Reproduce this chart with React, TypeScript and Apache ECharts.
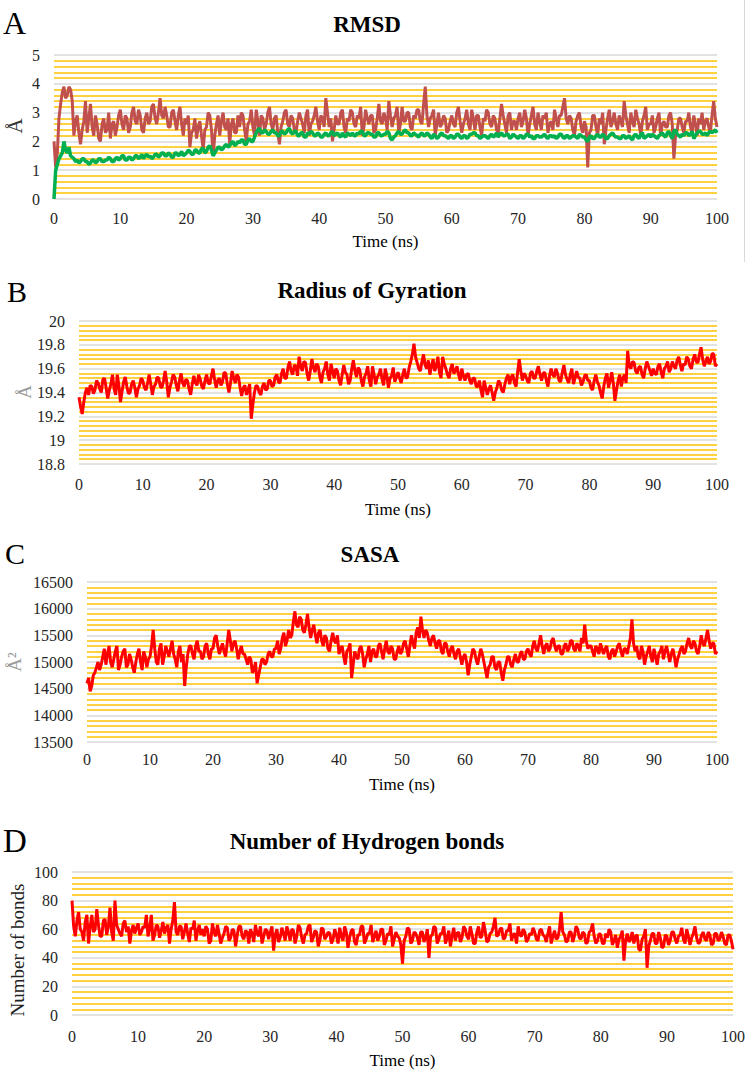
import React, { useEffect, useRef } from "react";
import * as echarts from "echarts";

// time step between samples (ns)
const STEP = 0.25;

// Panel A: RMSD (Å)
const rmsdRed = [
  2.0,1.1,1.6,2.8,3.3,3.7,3.9,3.5,3.6,3.9,3.8,3.4,2.2,2.7,2.9,2.3,1.9,2.4,2.7,3.4,
  2.3,2.8,3.3,2.5,2.2,2.9,2.6,2.1,2.0,2.6,2.8,2.3,2.4,3.0,2.1,2.6,2.7,2.2,2.5,2.9,
  3.1,2.6,2.4,2.9,2.8,2.3,2.5,3.0,3.2,2.7,2.6,3.1,2.9,2.4,2.3,2.8,3.0,2.6,2.7,3.2,
  3.3,2.8,2.6,3.0,3.5,2.9,2.8,3.2,2.9,2.5,2.5,3.0,3.1,2.7,2.4,2.9,3.2,2.6,2.2,2.8,
  2.6,2.9,1.8,2.3,2.4,2.8,2.1,2.5,2.7,2.2,1.7,2.4,2.5,3.0,2.9,2.4,1.5,2.2,2.6,2.9,
  2.2,2.7,3.0,2.5,2.4,2.8,1.9,2.6,2.8,2.3,2.3,2.9,2.5,3.0,2.9,2.4,2.0,2.6,2.7,3.1,
  2.5,2.2,3.1,2.7,2.2,2.9,2.8,2.4,2.6,3.0,3.2,2.6,2.4,2.8,2.9,2.3,1.9,2.5,2.7,3.0,
  3.1,2.6,2.5,2.9,2.8,2.4,2.3,2.7,3.0,2.8,2.6,2.3,2.9,3.1,2.2,2.6,2.7,2.9,3.2,2.7,
  2.4,2.9,2.8,2.5,3.5,3.0,2.5,2.8,2.0,2.4,2.9,2.6,2.6,3.0,3.1,2.5,2.3,2.8,2.7,3.1,
  3.0,2.6,2.5,2.9,2.8,3.2,2.2,2.5,3.1,2.8,2.6,2.9,2.9,2.3,2.4,2.8,3.3,2.7,2.6,3.0,
  2.8,2.4,3.4,2.9,2.5,2.8,2.9,3.2,2.3,2.6,3.2,2.7,2.7,3.0,3.0,2.5,2.4,2.9,2.8,3.1,
  3.1,2.7,2.6,3.3,3.9,2.9,2.5,2.8,2.9,3.1,2.2,2.6,3.0,2.5,2.6,2.9,2.8,2.3,2.4,2.7,
  2.9,2.6,2.5,3.0,3.2,2.7,2.3,2.6,2.8,3.1,2.6,2.4,3.1,2.8,2.4,2.9,2.9,2.5,2.2,2.8,
  2.7,3.1,3.0,2.6,2.5,2.9,2.8,2.4,2.3,2.8,3.3,2.9,2.6,2.3,2.9,3.0,2.4,2.7,2.7,2.4,
  2.8,3.0,2.5,2.7,3.1,2.8,2.2,2.6,2.9,3.2,2.6,2.4,3.0,2.7,2.4,2.9,2.8,3.0,2.3,2.6,
  2.7,2.4,3.1,2.8,2.5,2.9,2.9,3.2,3.5,2.8,2.6,2.9,2.8,2.4,2.2,2.7,2.9,3.0,2.5,2.3,
  2.7,2.5,1.1,2.3,2.4,2.9,2.9,2.5,2.2,2.8,2.6,3.0,1.9,2.4,2.8,3.1,2.5,2.7,3.0,2.6,
  2.4,2.9,2.7,2.5,3.4,2.9,2.6,2.3,3.0,2.7,2.5,3.1,2.8,2.6,2.2,2.7,2.9,3.2,2.4,2.6,
  2.6,2.9,2.3,2.5,2.8,3.0,2.2,2.6,2.7,2.5,2.5,2.9,3.0,2.6,1.4,2.2,2.4,2.8,2.8,2.5,
  2.3,2.7,2.7,3.0,2.5,2.3,2.9,2.6,2.2,2.8,2.6,3.0,2.4,2.7,2.8,2.5,2.3,2.9,3.4,2.8,
  2.5,
];
const rmsdGreen = [
  0.0,1.0,1.2,1.4,1.5,1.6,2.0,1.7,1.6,1.8,1.5,1.45,1.4,1.3,1.35,1.25,1.3,1.4,1.4,1.3,
  1.3,1.2,1.25,1.35,1.35,1.25,1.3,1.4,1.4,1.3,1.3,1.35,1.35,1.45,1.4,1.3,1.3,1.4,1.45,1.35,
  1.4,1.5,1.5,1.35,1.35,1.45,1.45,1.35,1.4,1.5,1.5,1.4,1.45,1.55,1.4,1.5,1.55,1.45,1.5,1.4,
  1.45,1.55,1.55,1.45,1.5,1.6,1.6,1.5,1.5,1.6,1.55,1.45,1.45,1.6,1.6,1.5,1.55,1.65,1.5,1.55,
  1.6,1.7,1.65,1.55,1.55,1.7,1.7,1.6,1.6,1.75,1.75,1.6,1.65,1.8,1.85,1.7,1.5,1.6,1.7,1.8,
  1.8,1.7,1.75,1.85,1.9,1.8,1.85,1.95,2.0,1.85,1.9,2.0,1.95,2.05,2.05,1.9,1.9,2.05,2.1,2.0,
  2.0,2.15,2.3,2.4,2.45,2.3,2.3,2.4,2.35,2.25,2.25,2.35,2.4,2.3,2.3,2.2,2.2,2.35,2.35,2.25,
  2.3,2.4,2.45,2.3,2.25,2.35,2.35,2.2,2.2,2.3,2.3,2.15,2.15,2.3,2.25,2.35,2.3,2.2,2.2,2.3,
  2.25,2.15,2.15,2.25,2.3,2.2,2.2,2.3,2.35,2.2,2.25,2.3,2.2,2.15,2.3,2.2,2.15,2.3,2.25,2.2,
  2.3,2.2,2.2,2.3,2.25,2.35,2.35,2.2,2.2,2.3,2.3,2.25,2.25,2.15,2.15,2.3,2.3,2.2,2.2,2.25,
  2.25,2.35,2.3,2.1,2.05,2.15,2.2,2.3,2.35,2.25,2.25,2.35,2.4,2.3,2.3,2.2,2.2,2.3,2.25,2.2,
  2.15,2.25,2.3,2.2,2.2,2.3,2.25,2.15,2.1,2.25,2.2,2.1,2.15,2.25,2.3,2.2,2.2,2.15,2.1,2.2,
  2.2,2.1,2.15,2.25,2.25,2.15,2.1,2.2,2.2,2.1,2.15,2.25,2.25,2.3,2.3,2.2,2.2,2.1,2.15,2.2,
  2.2,2.15,2.1,2.2,2.25,2.15,2.2,2.3,2.15,2.25,2.3,2.2,2.2,2.25,2.25,2.1,2.15,2.25,2.2,2.15,
  2.1,2.2,2.2,2.1,2.15,2.25,2.25,2.15,2.2,2.1,2.1,2.2,2.2,2.15,2.15,2.2,2.25,2.15,2.1,2.2,
  2.2,2.15,2.2,2.1,2.15,2.25,2.25,2.15,2.1,2.2,2.2,2.1,2.15,2.2,2.2,2.15,2.1,2.25,2.2,2.15,
  2.15,2.05,2.0,2.15,2.2,2.1,2.1,2.2,2.25,2.15,2.15,2.25,2.2,2.1,2.1,2.2,2.25,2.3,2.2,2.15,
  2.15,2.1,2.1,2.2,2.2,2.1,2.15,2.2,2.1,2.05,2.2,2.25,2.15,2.1,2.25,2.3,2.1,2.15,2.2,2.25,
  2.15,2.25,2.2,2.15,2.1,2.2,2.25,2.3,2.2,2.15,2.3,2.35,2.2,2.1,2.35,2.4,2.25,2.2,2.15,2.25,
  2.2,2.3,2.3,2.2,2.25,2.35,2.1,2.2,2.3,2.35,2.35,2.25,2.25,2.3,2.2,2.3,2.35,2.3,2.35,2.4,
  2.3,
];

// Panel B: Radius of gyration (Å)
const rgValues = [
  19.36,19.28,19.22,19.32,19.40,19.44,19.38,19.46,19.45,19.39,19.42,19.50,19.48,19.43,19.40,19.51,19.52,19.44,19.35,19.42,
  19.47,19.55,19.43,19.38,19.55,19.46,19.32,19.41,19.49,19.53,19.45,19.39,19.40,19.47,19.50,19.44,19.36,19.43,19.46,19.52,
  19.50,19.44,19.42,19.48,19.55,19.47,19.38,19.45,19.47,19.53,19.52,19.45,19.44,19.50,19.58,19.49,19.36,19.44,19.49,19.55,
  19.53,19.46,19.41,19.50,19.56,19.48,19.45,19.51,19.50,19.43,19.38,19.47,19.54,19.48,19.46,19.55,19.51,19.45,19.43,19.50,
  19.55,19.48,19.47,19.54,19.60,19.51,19.44,19.50,19.52,19.46,19.49,19.57,19.56,19.47,19.40,19.48,19.58,19.52,19.48,19.55,
  19.53,19.44,19.37,19.44,19.46,19.38,19.42,19.47,19.18,19.30,19.40,19.46,19.45,19.40,19.38,19.45,19.48,19.42,19.43,19.50,
  19.50,19.45,19.46,19.53,19.55,19.49,19.48,19.56,19.60,19.52,19.52,19.61,19.66,19.58,19.55,19.63,19.62,19.54,19.70,19.62,
  19.58,19.66,19.65,19.56,19.50,19.58,19.68,19.61,19.57,19.64,19.62,19.53,19.48,19.57,19.60,19.66,19.55,19.50,19.64,19.58,
  19.52,19.60,19.58,19.50,19.46,19.55,19.63,19.57,19.55,19.47,19.50,19.60,19.67,19.58,19.53,19.61,19.59,19.50,19.45,19.53,
  19.56,19.62,19.50,19.45,19.62,19.55,19.47,19.53,19.55,19.60,19.51,19.46,19.60,19.54,19.44,19.52,19.54,19.61,19.49,19.53,
  19.57,19.52,19.48,19.55,19.60,19.52,19.53,19.61,19.66,19.72,19.81,19.70,19.65,19.60,19.58,19.66,19.72,19.63,19.60,19.67,
  19.55,19.62,19.68,19.58,19.62,19.70,19.57,19.52,19.70,19.64,19.60,19.55,19.52,19.60,19.64,19.56,19.58,19.62,19.55,19.50,
  19.60,19.54,19.50,19.55,19.56,19.50,19.47,19.52,19.52,19.45,19.45,19.50,19.42,19.36,19.50,19.44,19.38,19.43,19.46,19.40,
  19.33,19.40,19.44,19.50,19.48,19.42,19.40,19.47,19.52,19.55,19.47,19.53,19.55,19.48,19.45,19.57,19.68,19.58,19.50,19.56,
  19.54,19.50,19.48,19.56,19.58,19.52,19.52,19.58,19.62,19.55,19.50,19.56,19.57,19.50,19.45,19.54,19.60,19.55,19.53,19.60,
  19.56,19.50,19.49,19.57,19.63,19.55,19.51,19.48,19.55,19.60,19.47,19.52,19.58,19.53,19.52,19.46,19.49,19.54,19.55,19.50,
  19.50,19.44,19.42,19.50,19.55,19.49,19.46,19.40,19.35,19.45,19.52,19.56,19.44,19.50,19.57,19.48,19.33,19.42,19.50,19.55,
  19.45,19.52,19.55,19.48,19.75,19.62,19.60,19.66,19.65,19.58,19.56,19.61,19.62,19.55,19.52,19.60,19.66,19.62,19.58,19.54,
  19.60,19.56,19.55,19.62,19.64,19.57,19.52,19.60,19.62,19.66,19.57,19.60,19.66,19.62,19.60,19.67,19.70,19.63,19.58,19.64,
  19.63,19.70,19.68,19.62,19.60,19.68,19.72,19.66,19.65,19.72,19.78,19.68,19.62,19.66,19.70,19.64,19.66,19.73,19.72,19.62,
  19.64,
];

// Panel C: SASA (Å²)
const sasaValues = [
  14600,14700,14450,14550,14750,14800,14900,15000,14850,14950,15100,15250,14950,15150,15300,15000,14900,15050,15200,15300,
  14850,14950,15100,15200,15250,14900,14950,15150,15050,14900,14800,15000,15150,15250,15000,14850,15200,15100,14900,15050,
  15100,15300,15600,15250,15000,14950,15250,15350,14950,15100,15300,15200,15100,15250,15400,15150,15050,14900,15200,15300,
  15000,15150,14550,14900,15150,15300,15300,15150,15050,15300,15400,15200,15200,15050,15100,15300,15350,15150,15050,15250,
  15250,15450,15500,15300,15150,15250,15350,15200,15100,15350,15600,15400,15200,15350,15400,15250,15050,15200,15300,15150,
  15150,15050,14950,15100,15050,14800,14850,15000,14600,14750,14900,15050,15050,14950,15000,15150,15200,15100,15100,15250,
  15250,15400,15150,15250,15450,15550,15300,15400,15600,15450,15500,15750,15950,15700,15650,15850,15800,15600,15550,15700,
  15900,15650,15450,15600,15700,15500,15350,15550,15600,15400,15300,15500,15450,15250,15200,15400,15550,15400,15350,15500,
  15150,15250,15300,15100,14950,15200,15250,15350,14700,14950,15200,15100,15050,15250,15300,15150,14900,15050,15150,15300,
  15000,15200,15250,15100,15100,15300,15350,15200,15050,15250,15400,15200,15150,15300,15250,15050,15050,15200,15300,15150,
  15200,15350,15400,15250,15100,15300,15500,15350,15250,15550,15650,15450,15850,15600,15450,15600,15550,15400,15300,15450,
  15500,15350,15250,15400,15400,15200,15150,15350,15350,15200,15100,15250,15300,15150,15050,15200,15250,15100,14950,15100,
  15150,15000,14750,14950,15100,15250,15200,15050,14950,15100,15250,15150,15000,14850,14700,14900,14950,15100,15100,14900,
  14850,15000,15000,14800,14650,14850,14950,15100,15100,14950,14900,15050,15150,15000,15000,15150,15200,15050,15050,15200,
  15250,15150,15100,15300,15400,15250,15200,15350,15500,15300,15150,15300,15350,15200,15250,15400,15450,15300,15200,15300,
  15300,15150,15150,15300,15350,15200,15250,15400,15400,15250,15200,15350,15300,15200,15450,15350,15700,15400,15250,15300,
  15300,15200,15100,15300,15250,15150,15350,15250,15150,15250,15300,15100,15050,15200,15250,15100,15200,15300,15350,15200,
  15100,15250,15250,15150,15300,15450,15800,15350,15200,15300,15100,15050,15300,15200,14950,15100,15200,15300,15100,15000,
  15250,15100,14950,15150,15200,15300,15050,15200,15300,15150,15000,15150,15250,15100,14900,15050,15150,15250,15300,15150,
  15200,15350,15450,15300,15250,15400,15350,15200,15150,15300,15500,15350,15300,15450,15600,15400,15250,15350,15350,15150,
  15200,
];

// Panel D: number of hydrogen bonds
const hbondValues = [
  80,62,55,66,72,60,58,52,65,70,50,62,70,58,60,74,63,55,55,66,
  67,56,62,75,58,52,80,63,60,57,55,64,66,58,62,50,59,63,57,61,
  64,56,58,62,61,70,55,60,70,52,56,63,62,54,59,65,57,61,63,50,
  60,66,79,58,56,62,62,53,58,64,57,51,61,60,66,52,59,63,56,60,
  55,62,60,50,52,64,58,55,63,57,50,54,57,62,61,52,54,60,59,48,
  56,62,62,55,53,59,58,50,60,57,51,63,57,55,62,50,55,60,59,53,
  58,62,45,56,60,51,54,61,57,52,62,58,52,60,59,50,55,63,61,54,
  50,56,57,62,63,51,54,59,58,48,52,61,60,53,55,58,57,50,53,60,
  56,50,61,55,52,62,58,47,54,59,60,51,49,56,56,62,62,50,53,57,
  57,63,51,55,59,52,55,60,60,49,52,57,56,62,48,53,58,55,54,49,
  36,52,55,61,60,50,52,58,57,54,49,58,58,51,54,60,40,55,56,62,
  61,50,53,57,57,62,50,54,59,48,55,61,52,57,58,51,54,62,60,55,
  53,62,57,50,50,58,62,54,55,65,59,51,52,57,58,62,68,55,56,60,
  61,53,54,59,59,64,52,56,57,50,62,56,55,60,58,51,53,57,56,61,
  58,53,52,59,60,56,55,51,57,62,50,55,59,53,54,60,72,58,56,51,
  52,58,58,51,55,62,60,54,53,58,57,50,51,58,59,64,55,50,52,57,
  56,50,50,57,54,60,58,49,52,56,47,53,55,59,38,52,57,51,53,58,
  50,55,56,46,45,53,55,60,33,48,52,57,57,50,50,58,54,47,48,56,
  55,49,52,58,58,53,50,55,56,61,53,50,60,55,49,54,57,62,54,50,
  51,56,58,53,52,58,56,49,50,57,57,52,53,58,55,50,49,56,56,52,
  46,
];

const panelTitles = ["RMSD", "Radius of Gyration", "SASA", "Number of Hydrogen bonds"];
const panelLetters = ["A", "B", "C", "D"];
const yNames = ["Å", "Å", "Å²", "Number of bonds"];
const xName = "Time (ns)";
const yRanges = [
  { min: 0, max: 5, interval: 1 },
  { min: 18.8, max: 20, interval: 0.2 },
  { min: 13500, max: 16500, interval: 500 },
  { min: 0, max: 100, interval: 20 },
];

const toPairs = (vals: number[]) => vals.map((v, i) => [i * STEP, v]);

const FONT = "Liberation Serif";

// layout per panel
const layout = [
  { left: 54, top: 55, width: 663, height: 144, labelMargin: 11, nameGap: 34,
    letter: { x: 3, y: 23, size: 32 }, title: { x: 367, y: 24 },
    yname: { x: 15, y: 126, size: 21, color: "#333333" } },
  { left: 79, top: 321, width: 638, height: 143, labelMargin: 12, nameGap: 37,
    letter: { x: 7, y: 291, size: 30 }, title: { x: 372, y: 290 },
    yname: { x: 24, y: 392, size: 19, color: "#9a9a9a" } },
  { left: 87, top: 582, width: 630, height: 160, labelMargin: 9, nameGap: 34,
    letter: { x: 5, y: 553, size: 30 }, title: { x: 370, y: 554 },
    yname: { x: 14, y: 662, size: 19, color: "#9a9a9a" } },
  { left: 72, top: 872, width: 661, height: 143, labelMargin: 13, nameGap: 37,
    letter: { x: 3, y: 841, size: 33 }, title: { x: 367, y: 841 },
    yname: { x: 17, y: 950, size: 19, color: "#222222" } },
];

export default function App() {
  const ref = useRef<HTMLDivElement>(null);
  useEffect(() => {
    if (!ref.current) return;
    const chart = echarts.init(ref.current, undefined, { renderer: "svg" });
    const labelStyle = { fontFamily: FONT, fontSize: 16, color: "#262626" };

    const grid = layout.map((l) => ({ left: l.left, top: l.top, width: l.width, height: l.height }));
    const xAxis = layout.map((l, i) => ({
      gridIndex: i, type: "value", min: 0, max: 100, interval: 10,
      axisLine: { show: false }, axisTick: { show: false }, splitLine: { show: false },
      axisLabel: { ...labelStyle, margin: l.labelMargin, formatter: (v: number) => String(v) },
      name: xName, nameLocation: "middle", nameGap: l.nameGap,
      nameTextStyle: { fontFamily: FONT, fontSize: 17, color: "#000000" },
    }));
    const yAxis = yRanges.map((r, i) => ({
      gridIndex: i, type: "value", min: r.min, max: r.max, interval: r.interval,
      axisLine: { show: false }, axisTick: { show: false },
      axisLabel: { ...labelStyle, margin: 14, formatter: (v: number) => String(Math.round(v * 100) / 100) },
      splitLine: { show: true, lineStyle: { color: "#D9D9D9", width: 1.5 } },
      minorTick: { show: false, splitNumber: 5 },
      minorSplitLine: { show: true, lineStyle: { color: "#FFC000", width: 1.5 } },
    }));

    const lineBase = { type: "line", showSymbol: false, symbol: "none", silent: true };
    const series = [
      { ...lineBase, name: "RMSD 1", xAxisIndex: 0, yAxisIndex: 0, data: toPairs(rmsdRed), lineStyle: { color: "#C0504D", width: 3 }, z: 2 },
      { ...lineBase, name: "RMSD 2", xAxisIndex: 0, yAxisIndex: 0, data: toPairs(rmsdGreen), lineStyle: { color: "#00B050", width: 3.5 }, z: 3 },
      { ...lineBase, name: "Rg", xAxisIndex: 1, yAxisIndex: 1, data: toPairs(rgValues), lineStyle: { color: "#FF0000", width: 3 } },
      { ...lineBase, name: "SASA", xAxisIndex: 2, yAxisIndex: 2, data: toPairs(sasaValues), lineStyle: { color: "#FF0000", width: 3 } },
      { ...lineBase, name: "H-bonds", xAxisIndex: 3, yAxisIndex: 3, data: toPairs(hbondValues), lineStyle: { color: "#FF0000", width: 3 } },
    ];

    const graphic: any[] = [
      { type: "line", shape: { x1: 744.5, y1: 0, x2: 744.5, y2: 262 }, style: { stroke: "#D9D9D9", lineWidth: 1 } },
    ];
    layout.forEach((l, i) => {
      graphic.push({
        type: "text", x: l.letter.x, y: l.letter.y,
        style: { text: panelLetters[i], fontFamily: FONT, fontSize: l.letter.size, fill: "#000", verticalAlign: "middle" },
      });
      graphic.push({
        type: "text", x: l.title.x, y: l.title.y,
        style: { text: panelTitles[i], fontFamily: FONT, fontSize: 23, fontWeight: "bold", fill: "#000", align: "center", verticalAlign: "middle" },
      });
      graphic.push({
        type: "text", x: l.yname.x, y: l.yname.y, rotation: Math.PI / 2,
        style: { text: yNames[i], fontFamily: FONT, fontSize: l.yname.size, fill: l.yname.color, align: "center", verticalAlign: "middle" },
      });
    });

    chart.setOption({
      animation: false,
      backgroundColor: "#ffffff",
      grid, xAxis, yAxis, series, graphic,
    });
    return () => chart.dispose();
  }, []);
  return <div ref={ref} style={{ position: "absolute", left: 0, top: 0, width: 750, height: 1076 }} />;
}
